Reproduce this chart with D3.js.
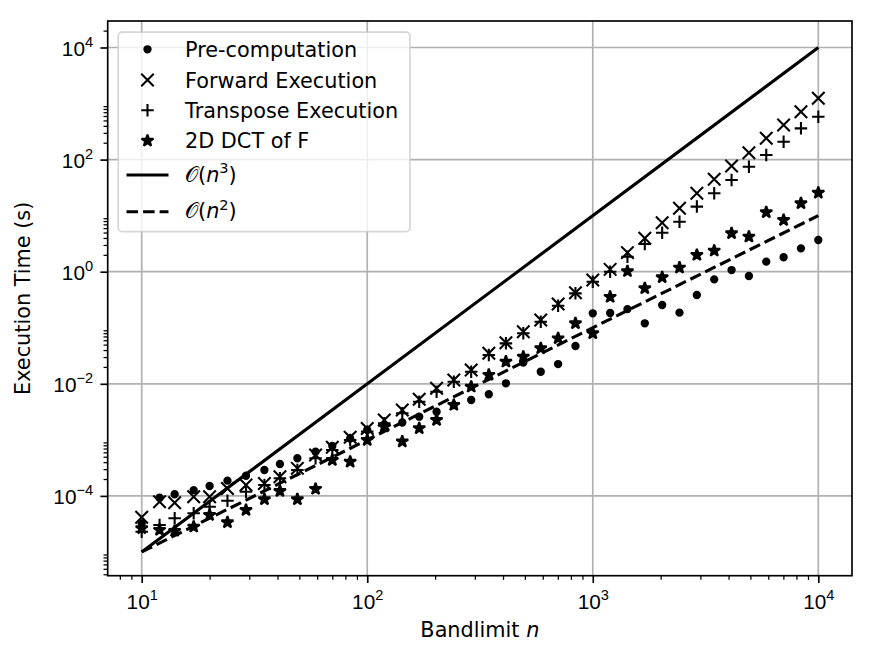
<!DOCTYPE html>
<html>
<head>
<meta charset="utf-8">
<script src="https://cdn.jsdelivr.net/npm/d3@7"></script>
<style>
  body { margin: 0; background: #fff; }
  svg { display: block; font-family: "DejaVu Sans", sans-serif; }
</style>
</head>
<body>
<div class="chart"></div>
<script>
// ======= bandlimit vs execution time, log-log =======

const bandlimit = [10, 12, 14, 17, 20, 24, 29, 35, 41, 49, 59, 70, 84, 100, 119, 143, 170, 203, 242, 289,
  346, 412, 492, 588, 702, 838, 1000, 1194, 1425, 1701, 2031, 2424, 2894, 3455, 4125, 4924, 5878, 7017, 8377, 10000]

const precomputation = [3.24e-5, 9.29e-5, 1.07e-4, 1.27e-4, 1.50e-4, 1.87e-4, 2.29e-4, 2.90e-4, 3.71e-4, 4.69e-4,
  6.15e-4, 7.76e-4, 1.06e-3, 1.50e-3, 1.82e-3, 2.04e-3, 2.59e-3, 3.18e-3, 4.17e-3, 5.14e-3,
  6.50e-3, 1.02e-2, 2.40e-2, 1.64e-2, 2.25e-2, 4.72e-2, 0.181, 0.183, 0.215, 0.120,
  0.255, 0.186, 0.384, 0.731, 1.07, 0.837, 1.51, 1.81, 2.61, 3.68]

const forward = [4.15e-5, 7.89e-5, 7.57e-5, 9.68e-5, 9.68e-5, 1.36e-4, 1.56e-4, 1.67e-4, 2.20e-4, 3.10e-4,
  5.37e-4, 7.35e-4, 1.11e-3, 1.60e-3, 2.26e-3, 3.41e-3, 5.28e-3, 8.30e-3, 1.17e-2, 1.76e-2,
  3.50e-2, 5.41e-2, 8.51e-2, 0.137, 0.265, 0.422, 0.711, 1.10, 2.19, 3.94,
  7.48, 13.5, 25.1, 44.6, 76.9, 133, 240, 414, 716, 1242]

const transpose = [2.30e-5, 3.03e-5, 3.98e-5, 4.89e-5, 6.41e-5, 8.20e-5, 1.19e-4, 1.56e-4, 2.06e-4, 2.90e-4,
  4.69e-4, 6.59e-4, 9.93e-4, 1.40e-3, 1.97e-3, 2.98e-3, 4.80e-3, 7.23e-3, 1.09e-2, 1.64e-2,
  3.27e-2, 5.27e-2, 7.96e-2, 0.128, 0.247, 0.411, 0.664, 1.00, 1.85, 3.12,
  4.97, 7.80, 14.5, 25.1, 43.3, 74.6, 121, 208, 361, 582]

const dct2d = [2.64e-5, 2.47e-5, 2.37e-5, 2.82e-5, 4.56e-5, 3.38e-5, 5.60e-5, 8.69e-5, 1.22e-4, 8.69e-5,
  1.33e-4, 4.37e-4, 4.07e-4, 9.93e-4, 1.72e-3, 9.33e-4, 1.61e-3, 2.26e-3, 4.19e-3, 8.87e-3,
  1.44e-2, 2.48e-2, 3.04e-2, 4.30e-2, 6.47e-2, 0.120, 7.96e-2, 0.355, 1.02, 0.506,
  0.794, 1.18, 1.99, 2.37, 4.84, 4.21, 11.5, 8.36, 16.6, 25.6]

// reference slopes, end points only
const refN = [10, 10000]
const cubicRef = [1e-5, 1e4]
const squareRef = [1e-5, 10]

const xTicks = [10, 100, 1000, 10000]
const yTicks = [1e-4, 1e-2, 1, 1e2, 1e4]

const margin = { top: 21, right: 23, bottom: 82.3, left: 107.7 }
const width = 875 - margin.left - margin.right
const height = 658 - margin.top - margin.bottom

const pt = 2.083 // px per point (150 dpi)
const fs = 20.8
const supFs = 14.6

const svg = d3.select('.chart')
  .append('svg')
    .attr('width', 875)
    .attr('height', 658)

const container = svg.append('g')
  .attr('transform', `translate(${margin.left}, ${margin.top})`)

const xScale = d3.scaleLog()
  .domain([10 ** 0.8492, 10 ** 4.1494])
  .range([0, width])

const yScale = d3.scaleLog()
  .domain([10 ** -5.4237, 10 ** 4.4728])
  .range([height, 0])

// minor ticks: 2..9 x each decade (y only on even decades, like matplotlib did here)
const minorX = []
for (let e = 0; e <= 4; e++) for (let s = 2; s <= 9; s++) minorX.push(s * 10 ** e)
const minorY = []
for (let e = -6; e <= 4; e += 2) for (let s = 2; s <= 9; s++) minorY.push(s * 10 ** e)
const inX = v => v >= xScale.domain()[0] && v <= xScale.domain()[1]
const inY = v => v >= yScale.domain()[0] && v <= yScale.domain()[1]

// grid
container.append('g')
  .selectAll('line')
  .data(xTicks)
  .join('line')
    .attr('x1', d => xScale(d)).attr('x2', d => xScale(d))
    .attr('y1', 0).attr('y2', height)
    .style('stroke', '#b0b0b0').style('stroke-width', 0.8 * pt)
container.append('g')
  .selectAll('line')
  .data(yTicks)
  .join('line')
    .attr('y1', d => yScale(d)).attr('y2', d => yScale(d))
    .attr('x1', 0).attr('x2', width)
    .style('stroke', '#b0b0b0').style('stroke-width', 0.8 * pt)

// markers
const m = 3 * pt // half size of a 6pt marker
const xPath = `M${-m},${-m}L${m},${m}M${-m},${m}L${m},${-m}`
const plusPath = `M${-m},0H${m}M0,${-m}V${m}`
const starPath = (() => {
  const pts = []
  for (let i = 0; i < 10; i++) {
    const r = i % 2 === 0 ? m : m * 0.381966
    const a = Math.PI * i / 5
    pts.push([r * Math.sin(a), -r * Math.cos(a)])
  }
  return 'M' + pts.map(p => p.join(',')).join('L') + 'Z'
})()

const series = [
  { name: 'Pre-computation', values: precomputation, shape: 'dot' },
  { name: 'Forward Execution', values: forward, shape: xPath },
  { name: 'Transpose Execution', values: transpose, shape: plusPath },
  { name: '2D DCT of F', values: dct2d, shape: starPath }
]

function drawMarker(g, shape) {
  if (shape === 'dot') {
    g.append('circle').attr('r', 1.5 * pt)
      .style('fill', '#000').style('stroke', '#000').style('stroke-width', pt)
  } else if (shape === starPath) {
    g.append('path').attr('d', shape)
      .style('fill', '#000').style('stroke', '#000').style('stroke-width', pt)
      .style('stroke-linejoin', 'bevel')
  } else {
    g.append('path').attr('d', shape)
      .style('fill', 'none').style('stroke', '#000').style('stroke-width', pt)
  }
}

series.forEach(s => {
  container.append('g')
    .selectAll('g')
    .data(bandlimit.map((n, i) => [n, s.values[i]]))
    .join('g')
      .attr('transform', d => `translate(${xScale(d[0])}, ${yScale(d[1])})`)
      .each(function () { drawMarker(d3.select(this), s.shape) })
})

const line = d3.line().x(d => xScale(d[0])).y(d => yScale(d[1]))
const dashes = `${3.7 * 1.5 * pt},${1.6 * 1.5 * pt}`

container.append('path')
  .datum(refN.map((n, i) => [n, cubicRef[i]]))
  .attr('d', line)
  .style('fill', 'none').style('stroke', '#000').style('stroke-width', 1.5 * pt)

container.append('path')
  .datum(refN.map((n, i) => [n, squareRef[i]]))
  .attr('d', line)
  .style('fill', 'none').style('stroke', '#000').style('stroke-width', 1.5 * pt)
  .style('stroke-dasharray', dashes)

// axes
function powerLabel(sel) {
  sel.each(function (d) {
    const e = Math.round(Math.log10(d))
    const t = d3.select(this).text('')
    t.append('tspan').text('10')
    t.append('tspan').attr('dy', -9).style('font-size', supFs + 'px')
      .text(String(e).replace('-', '\u2212'))
  })
}

const xAxis = d3.axisBottom(xScale).tickValues(xTicks).tickSize(3.5 * pt).tickSizeOuter(0)
const xg = container.append('g')
  .attr('transform', `translate(0, ${height})`)
  .call(xAxis)
xg.selectAll('.tick text')
  .attr('y', 33).attr('dy', null)
  .style('font-size', fs + 'px')
  .call(powerLabel)

const xMinor = d3.axisBottom(xScale).tickValues(minorX.filter(inX)).tickSize(2 * pt).tickFormat('')
container.append('g')
  .attr('transform', `translate(0, ${height})`)
  .call(xMinor)
  .selectAll('line').style('stroke-width', 0.6 * pt)

const yAxis = d3.axisLeft(yScale).tickValues(yTicks).tickSize(3.5 * pt).tickSizeOuter(0)
const yg = container.append('g').call(yAxis)
yg.selectAll('.tick text')
  .attr('x', -7 * pt).attr('dy', 7.5)
  .style('font-size', fs + 'px')
  .call(powerLabel)

const yMinor = d3.axisLeft(yScale).tickValues(minorY.filter(inY)).tickSize(2 * pt).tickFormat('')
container.append('g')
  .call(yMinor)
  .selectAll('line').style('stroke-width', 0.6 * pt)

container.selectAll('.domain').remove()
xg.selectAll('line').style('stroke-width', 0.8 * pt)
yg.selectAll('line').style('stroke-width', 0.8 * pt)

// spines
container.append('rect')
  .attr('width', width)
  .attr('height', height)
  .style('fill', 'none')
  .style('stroke', '#000')
  .style('stroke-width', 0.8 * pt)

// axis labels
svg.append('text')
  .attr('x', margin.left + width / 2)
  .attr('y', 637)
  .attr('text-anchor', 'middle')
  .style('font-size', fs + 'px')
  .call(t => {
    t.append('tspan').text('Bandlimit ')
    t.append('tspan').style('font-style', 'italic').text('n')
  })

svg.append('text')
  .attr('transform', `translate(30, ${margin.top + height / 2}) rotate(-90)`)
  .attr('text-anchor', 'middle')
  .style('font-size', fs + 'px')
  .text('Execution Time (s)')

// legend
const legend = svg.append('g')
legend.append('rect')
  .attr('x', 118.2).attr('y', 32.2)
  .attr('width', 291.8).attr('height', 199.5)
  .attr('rx', 0.2 * fs)
  .style('fill', '#fff').style('fill-opacity', 0.8)
  .style('stroke', '#cccccc').style('stroke-opacity', 0.8)
  .style('stroke-width', 0.8 * pt)

const rowY = [49.3, 80, 110.3, 140.7]
series.forEach((s, i) => {
  const g = legend.append('g').attr('transform', `translate(147.5, ${rowY[i]})`)
  drawMarker(g, s.shape)
  legend.append('text')
    .attr('x', 185).attr('y', rowY[i] + 7.6)
    .style('font-size', fs + 'px')
    .text(s.name)
})

const refRows = [{ y: 175, power: '3', dash: null }, { y: 211.7, power: '2', dash: dashes }]
refRows.forEach(r => {
  legend.append('line')
    .attr('x1', 126.5).attr('x2', 168.5)
    .attr('y1', r.y).attr('y2', r.y)
    .style('stroke', '#000').style('stroke-width', 1.5 * pt)
    .style('stroke-dasharray', r.dash)
  const t = legend.append('text')
    .attr('x', 185).attr('y', r.y + 6.5)
    .style('font-size', fs + 'px')
  t.append('tspan').style('font-family', '"DejaVu Serif", serif').text('\u{1D4AA}')
  t.append('tspan').text('(')
  t.append('tspan').style('font-style', 'italic').text('n')
  t.append('tspan').attr('dy', -8.5).style('font-size', supFs + 'px').text(r.power)
  t.append('tspan').attr('dy', 8.5).text(')')
})
</script>
</body>
</html>
